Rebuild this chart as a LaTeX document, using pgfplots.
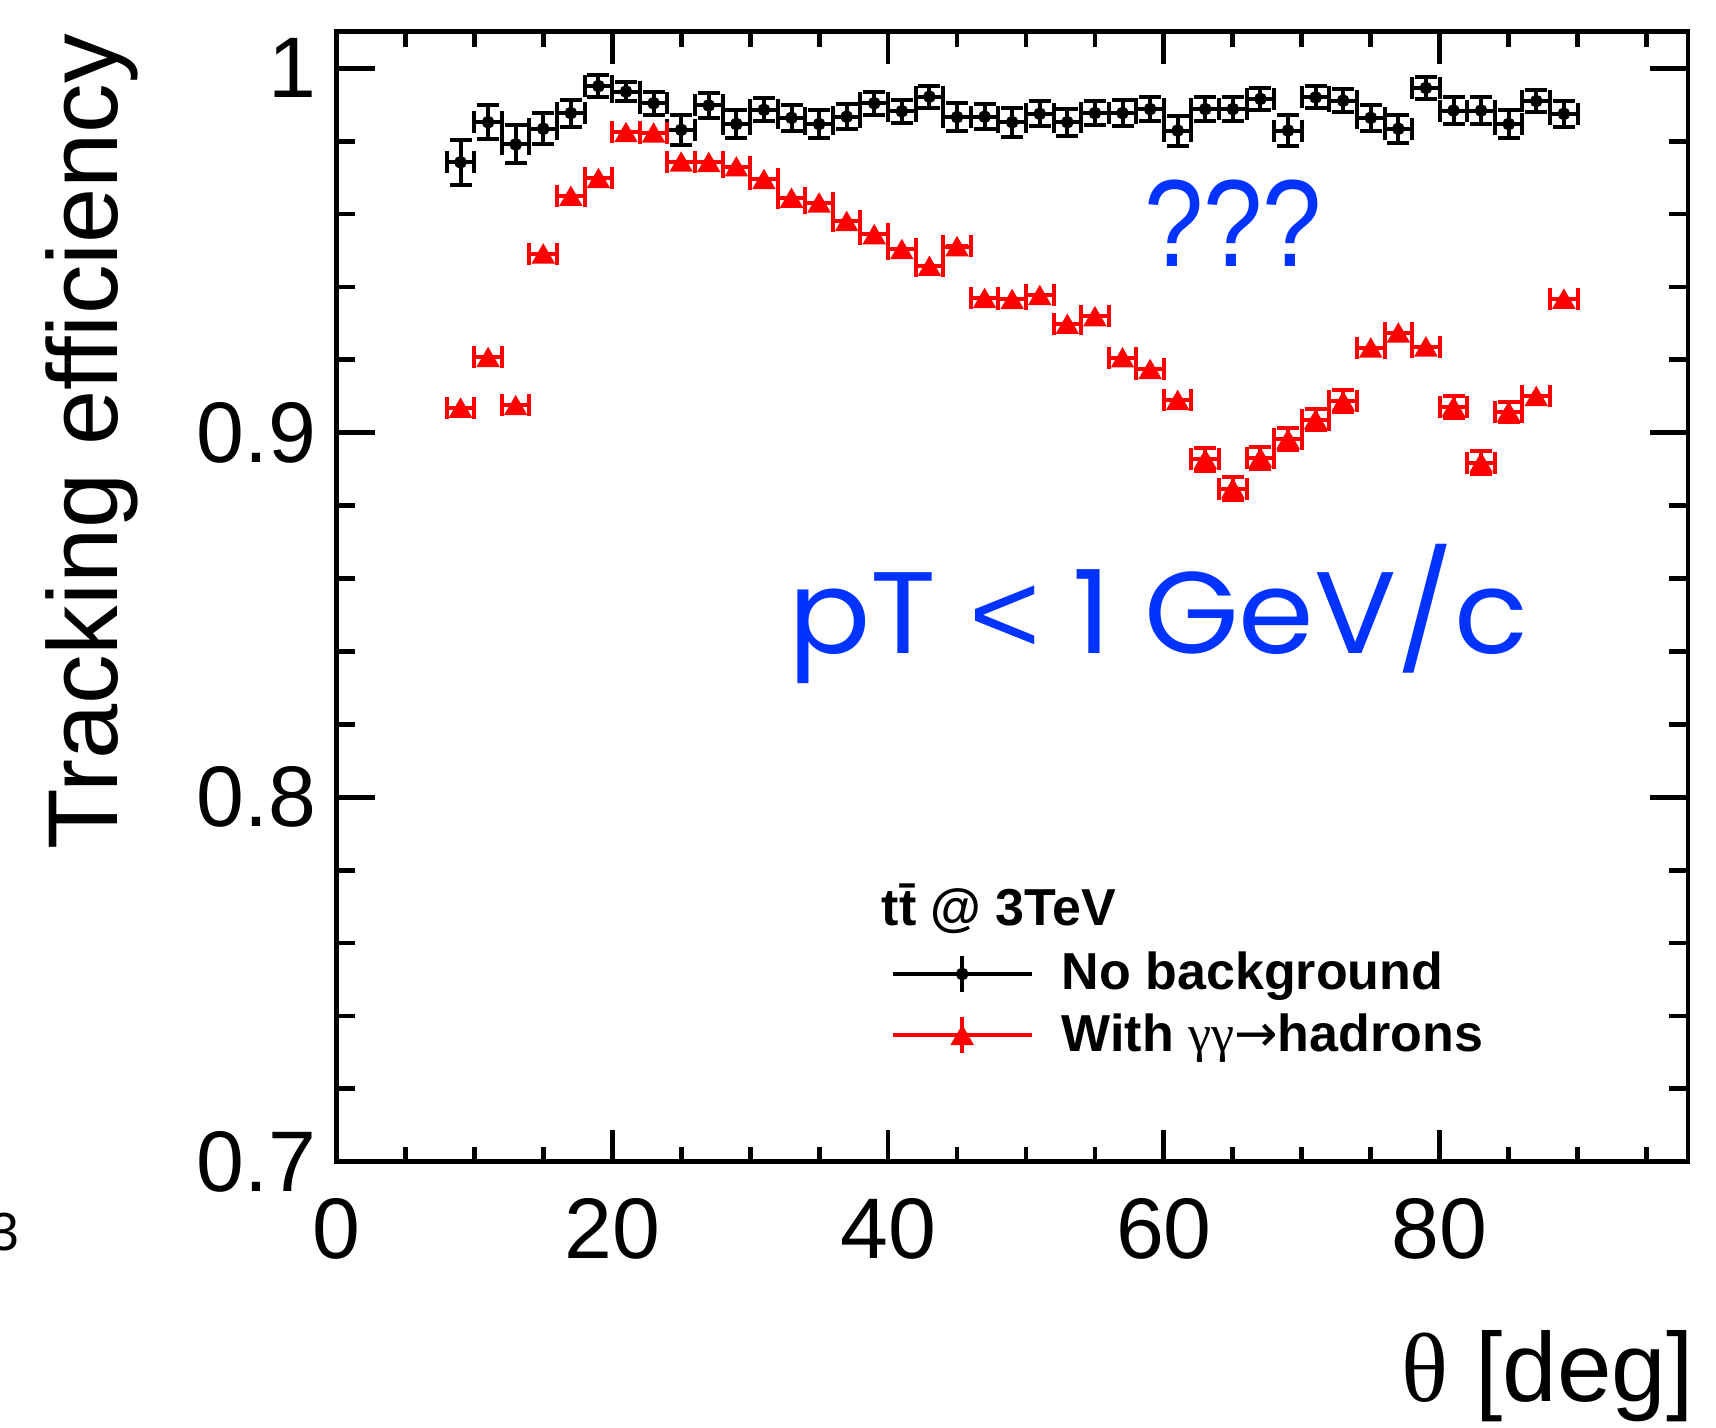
\documentclass[border=0pt]{standalone}
\usepackage{pgfplots}
\pgfplotsset{compat=1.18}
\usepackage{pgfplotstable}
\usepackage{fontspec}
\setmainfont{Liberation Sans}
\newfontfamily\serifgr{Liberation Serif}
\newfontfamily\djv{DejaVu Sans}
\newfontfamily\lib{Liberation Sans}
\newfontfamily\pop{Poppins}
\definecolor{qblue}{RGB}{0,51,255}

\pgfplotstableread{
x  y      ex  ey
9  0.9742 1 0.0062
11 0.9852 1 0.0046
13 0.9791 1 0.0052
15 0.9834 1 0.0043
17 0.9877 1 0.0037
19 0.9951 1 0.0030
21 0.9936 1 0.0027
23 0.9904 1 0.0032
25 0.9831 1 0.0041
27 0.9898 1 0.0035
29 0.9847 1 0.0038
31 0.9886 1 0.0032
33 0.9864 1 0.0035
35 0.9847 1 0.0039
37 0.9867 1 0.0035
39 0.9904 1 0.0032
41 0.9882 1 0.0032
43 0.9922 1 0.0030
45 0.9866 1 0.0038
47 0.9867 1 0.0035
49 0.9852 1 0.0040
51 0.9875 1 0.0034
53 0.9852 1 0.0037
55 0.9877 1 0.0033
57 0.9877 1 0.0035
59 0.9888 1 0.0032
61 0.9829 1 0.0041
63 0.9888 1 0.0033
65 0.9888 1 0.0032
67 0.9916 1 0.0030
69 0.9829 1 0.0043
71 0.9920 1 0.0030
73 0.9911 1 0.0032
75 0.9864 1 0.0035
77 0.9834 1 0.0038
79 0.9946 1 0.0031
81 0.9884 1 0.0036
83 0.9884 1 0.0036
85 0.9847 1 0.0039
87 0.9910 1 0.0031
89 0.9875 1 0.0035
}\nobkg

\pgfplotstableread{
x  y      ex  ey
9  0.9068 1 0
11 0.9207 1 0
13 0.9075 1 0
15 0.9491 1 0
17 0.9649 1 0
19 0.9698 1 0
21 0.9824 1 0
23 0.9823 1 0
25 0.9743 1 0
27 0.9742 1 0
29 0.9730 1 0
31 0.9695 1 0
33 0.9644 1 0
35 0.9631 1 0
37 0.9580 1 0
39 0.9544 1 0
41 0.9503 1 0
43 0.9457 1 0
45 0.9511 1 0
47 0.9369 1 0
49 0.9366 1 0
51 0.9377 1 0
53 0.9298 1 0
55 0.9319 1 0
57 0.9206 1 0
59 0.9174 1 0
61 0.9089 1 0
63 0.8927 1 0.0031
65 0.8847 1 0.0032
67 0.8931 1 0.0031
69 0.8982 1 0.0030
71 0.9036 1 0.0029
73 0.9086 1 0.0030
75 0.9233 1 0
77 0.9274 1 0
79 0.9236 1 0
81 0.9071 1 0.0031
83 0.8918 1 0.0032
85 0.9057 1 0.0028
87 0.9100 1 0
89 0.9367 1 0
}\withbkg

\pgfplotsset{
  leg black/.style={legend image code/.code={
     \draw[black, line width=1.1pt] (0pt,0pt) -- (34.8pt,0pt);
     \draw[black, line width=1.1pt] (17.4pt,-4.5pt) -- (17.4pt,4.5pt);
     \draw[black, fill=black] plot[only marks, mark=*, mark size=1.4pt] coordinates {(17.4pt,0pt)};
  }},
  leg red/.style={legend image code/.code={
     \draw[red, line width=1.1pt] (0pt,0pt) -- (34.8pt,0pt);
     \draw[red, line width=1.1pt] (17.4pt,-4.5pt) -- (17.4pt,4.5pt);
     \draw[red, fill=red] plot[only marks, mark=triangle*, mark size=3pt, mark options={yshift=-0.75pt}] coordinates {(17.4pt,0pt)};
  }},
}

\begin{document}
\begin{tikzpicture}
\useasboundingbox (0,0) rectangle (429pt,356.75pt);
\begin{axis}[
  at={(84.1pt,66.3pt)}, anchor=south west,
  scale only axis, width=337.9pt, height=282.5pt,
  xmin=0, xmax=98, ymin=0.7, ymax=1.01,
  axis line style={line width=1.2pt},
  xtick={0,20,40,60,80}, xticklabels={0,20,40,60,80},
  minor xtick={5,10,15,25,30,35,45,50,55,65,70,75,85,90,95},
  ytick={0.7,0.8,0.9,1}, yticklabels={0.7,0.8,0.9,1},
  minor ytick={0.72,0.74,0.76,0.78,0.82,0.84,0.86,0.88,0.92,0.94,0.96,0.98},
  tick style={line width=1.2pt, black},
  xtick style={/pgfplots/major tick length=8pt, /pgfplots/minor tick length=3.75pt},
  ytick style={/pgfplots/major tick length=9.6pt, /pgfplots/minor tick length=4.75pt},
  tick label style={font=\fontsize{21.5}{25}\selectfont},
  xticklabel style={yshift=-5.7pt},
  yticklabel style={xshift=-1.5pt},
  legend style={draw=none, fill=none, at={(0.4093,0.1391)}, anchor=west,
     inner sep=0pt, row sep=4.4pt, column sep=6.95pt,
     font=\fontsize{13}{15}\selectfont\bfseries,
     nodes={inner sep=0pt}},
  legend cell align=left,
]
\addplot[black, only marks, mark=*, mark size=1.4pt,
  mark options={fill=black, draw=black}, leg black,
  error bars/.cd, x dir=both, x explicit, y dir=both, y explicit,
  error bar style={line width=1pt, black},
  error mark options={rotate=90, line width=1pt, mark size=2.75pt, black}]
  table[x=x, y=y, x error=ex, y error=ey] {\nobkg};
\addplot[red, only marks, mark=triangle*, mark size=3pt,
  mark options={fill=red, draw=red, yshift=-0.75pt}, leg red,
  error bars/.cd, x dir=both, x explicit, y dir=both, y explicit,
  error bar style={line width=1pt, red},
  error mark options={rotate=90, line width=1pt, mark size=2.75pt, red}]
  table[x=x, y=y, x error=ex, y error=ey] {\withbkg};
\legend{No background, With {\mdseries\serifgr γγ}{\mdseries\djv →}hadrons}
\end{axis}
\node[rotate=90, anchor=base east, inner sep=0pt, font=\fontsize{24.8}{29}\selectfont] at (29.25pt,348.5pt) {Tracking efficiency};
\node[anchor=base east, inner sep=0pt, font=\fontsize{24.5}{29}\selectfont] at (423.6pt,6.5pt) {{\serifgr θ} [deg]};
\node[anchor=base east, inner sep=0pt, font=\fontsize{13.4}{16}\selectfont] at (5.1pt,44.25pt) {3};
\node[anchor=base west, inner sep=0pt, text=qblue, xscale=0.86, font=\fontsize{31}{36}\selectfont] at (285.9pt,290.2pt) {???};
\node[anchor=base west, inner sep=0pt, text=qblue, xscale=1.05, font=\fontsize{29}{34}\selectfont\pop] at (196.9pt,193.4pt) {pT {\lib <} 1 GeV/c};
\node[anchor=base west, inner sep=0pt, font=\fontsize{13}{15}\selectfont\bfseries] at (220.25pt,125.25pt) {t\={t} @ 3TeV};
\end{tikzpicture}
\end{document}
